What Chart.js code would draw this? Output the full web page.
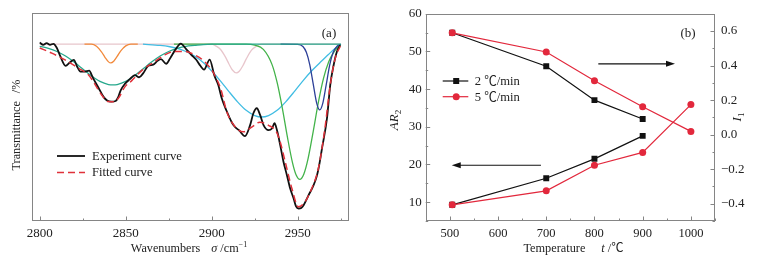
<!DOCTYPE html>
<html><head><meta charset="utf-8">
<script src="https://cdn.jsdelivr.net/npm/chart.js@4.4.1/dist/chart.umd.min.js"></script>
<style>
html,body{margin:0;padding:0;background:#fff;}
#wrap{position:relative;width:758px;height:261px;overflow:hidden;}
.box{position:absolute;top:0;height:261px;}
</style></head><body>
<div id="wrap">
  <div class="box" style="left:0;width:380px"><canvas id="ca"></canvas></div>
  <div class="box" style="left:380px;width:378px"><canvas id="cb"></canvas></div>
</div>
<script>
// ---------- Panel (a) data ----------
const A_X_TICKS = [2800, 2850, 2900, 2950];
const A_X_LABELS = ["2800", "2850", "2900", "2950"];
const A_X_MINOR = [2825, 2875, 2925, 2975];

const EXP_X = [2800,2802,2804,2806,2808,2810,2812,2815,2817.5,2819.8,2821.7,2823.7,2826.2,2828.7,2831,2834,2837,2839.2,2841.7,2844.1,2845.6,2847,2849.5,2852.4,2855.3,2857.8,2860.2,2863.1,2866,2868.5,2870.5,2873.5,2876,2879,2882,2885,2888,2891,2893.5,2895.5,2898.8,2901.5,2903.8,2905.8,2908.6,2911.6,2913.4,2916,2919.3,2922.3,2924.2,2926.2,2928.1,2930.1,2933,2935,2936.5,2937.9,2939.8,2941.7,2943.7,2945.6,2947.6,2949,2950.5,2952,2953.4,2956.3,2959.2,2961.2,2962.5,2964.1,2967,2968.9,2970.9,2972.8,2974.7];
const EXP_Y = [85.8,84.7,85.5,84.7,85.2,83.1,79.1,74.6,76.2,77.5,74.3,71.8,71.8,72.3,68.7,64.3,59.8,57.9,57.4,57.7,59.5,62.7,65.9,68.2,70.1,69.1,71.1,74.6,75.2,77.0,77.8,75.6,78.5,82.5,85.3,82.8,80.0,77.5,74.5,72.8,77.6,70.0,65.4,59.0,53.0,47.5,45.3,43.5,40.8,46.1,51.8,54.2,51.0,46.1,43.7,44.5,47.0,43.7,36.5,28.5,22.0,15.6,10.8,7.0,6.0,6.3,7.6,12.4,17.2,22.0,27.0,34.9,49.4,65.4,75.1,81.5,84.5];

const FIT_X = [2800,2807,2815,2822.5,2828.3,2832.2,2836,2839.9,2842.8,2845.7,2849.5,2853.5,2857,2861,2867,2872.7,2878.5,2884.3,2890,2896,2901.7,2905.6,2908.7,2913.6,2918.4,2923,2928,2933,2937.6,2939.8,2942.7,2946.6,2950.4,2954.2,2958.1,2962,2965.8,2968.9,2971.8,2974.7];
const FIT_Y = [83.2,80.7,77.3,73.5,70.3,65.6,60.6,57.4,57.3,59.0,64.5,67.5,70.5,73.5,76.7,79.9,81.5,81.5,79.9,76.5,70.2,62.5,52.6,45.3,42.9,45.0,47.5,46.0,42.9,38.0,28.5,15.6,6.8,9.2,15.6,25.3,44.6,65.4,78.3,84.0];

const ORANGE_X = [2826,2830,2833,2836,2838,2840,2841.3,2843,2845,2847,2850,2853,2857];
const ORANGE_Y = [85,85,84,81.2,78.6,76.5,76,76.8,79.1,81.7,84.2,85,85];

const TEAL_X = [2800,2805,2810,2815,2820,2825,2830,2835,2840,2842.5,2845,2850,2855,2860,2865,2870,2875,2880,2885,2890,2895,2900,2975];
const TEAL_Y = [84.0,83.0,81.5,79.3,76.4,73.1,69.8,67.1,65.6,65.4,65.6,67.1,69.8,73.1,76.4,79.3,81.5,83.0,84.0,84.4,84.8,85,85];

const PINK_X = [2800,2900,2902,2905,2908,2910,2912,2914.3,2916,2918,2920,2923,2926,2929,2975];
const PINK_Y = [85,85,84.3,82.6,78.8,75.5,72.6,71.2,72.0,74.5,77.8,82.0,84.1,85,85];

const CYAN_X = [2860,2870,2875,2880,2885,2890,2895,2900,2905,2910,2915,2920,2925,2929,2933,2938,2943,2948,2953,2958,2963,2968,2972,2975];
const CYAN_Y = [85,84.4,83.9,83.0,81.5,79.3,76.2,72.1,67.4,62.2,57.3,53.2,50.7,50.0,50.7,53.2,57.3,62.2,67.4,72.1,76.2,80.2,83.2,85];

const GREEN_X = [2878,2920,2925,2930,2935,2938,2941,2944,2947,2949,2951.2,2953.5,2956,2959,2962,2965,2968,2971,2975];
const GREEN_Y = [85,85,84.5,82.5,75.3,66.6,54.4,40.3,27.8,22.2,20,22.5,30,43.1,57.1,68.7,76.6,81.2,85];

const NAVY_X = [2940,2950,2953,2955,2957,2959,2961,2962.8,2964.5,2966.5,2968.5,2970.5,2973,2975];
const NAVY_Y = [85,84.9,83.9,81.1,75.1,65.8,56.7,53.4,56.4,65.3,74.7,80.9,84.1,85];

// ---------- Panel (b) data ----------
const TEMP_2 = [505, 700, 800, 900];
const AR2_2 = [9.3, 16.35, 21.5, 27.6];
const I1_2 = [0.59, 0.396, 0.20, 0.091];
const TEMP_5 = [505, 700, 800, 900, 1000];
const AR2_5 = [9.3, 13.0, 19.8, 23.2, 35.9];
const I1_5 = [0.59, 0.479, 0.312, 0.162, 0.019];

const B_X_TICKS = [500, 600, 700, 800, 900, 1000];
const B_X_LABELS = ["500", "600", "700", "800", "900", "1000"];
const B_X_MINOR = [450, 550, 650, 750, 850, 950, 1050];
const B_Y_TICKS = [10, 20, 30, 40, 50, 60];
const B_Y_LABELS = ["10", "20", "30", "40", "50", "60"];
const B_Y_MINOR = [5, 15, 25, 35, 45, 55];
const B_Y1_TICKS = [-0.4, -0.2, 0.0, 0.2, 0.4, 0.6];
const B_Y1_LABELS = ["\u22120.4", "\u22120.2", "0.0", "0.2", "0.4", "0.6"];
const B_Y1_MINOR = [-0.5, -0.3, -0.1, 0.1, 0.3, 0.5, 0.7];
const LEGEND_B = ["2 \u2103/min", "5 \u2103/min"];
const LEGEND_A = ["Experiment curve", "Fitted curve"];

// ---------- helpers ----------
const FAM = "'Liberation Serif','Times New Roman','Noto Sans CJK SC',serif";
const fnt = (sz, it) => (it ? 'italic ' : '') + sz + 'px ' + FAM;
const pts = (xs, ys) => xs.map((x, i) => ({x: x, y: ys[i]}));
const lab = (vals, labels) => (v) => { const i = vals.findIndex(t => Math.abs(t - v) < 1e-6); return i >= 0 ? labels[i] : ''; };
const AXIS_COL = '#858585';
const TEXT_COL = '#222';

function drawRuns(ctx, runs, cx, cy) {
  let w = 0;
  runs.forEach(r => { ctx.font = fnt(r.sz, r.it); r.w = ctx.measureText(r.t).width; w += r.w + (r.gap || 0); });
  let x = cx - w / 2;
  ctx.textAlign = 'left'; ctx.textBaseline = 'middle'; ctx.fillStyle = TEXT_COL;
  runs.forEach(r => { x += (r.gap || 0); ctx.font = fnt(r.sz, r.it); ctx.fillText(r.t, x, cy + (r.dy || 0)); x += r.w; });
}
function drawBox(ctx, a) {
  ctx.save(); ctx.strokeStyle = AXIS_COL; ctx.lineWidth = 1;
  ctx.strokeRect(Math.round(a.left) + 0.5, Math.round(a.top) + 0.5, Math.round(a.right) - Math.round(a.left) - 1, Math.round(a.bottom) - Math.round(a.top) - 1);
  ctx.restore();
}
function ticksX(ctx, sc, vals, len, a) {
  ctx.save(); ctx.strokeStyle = AXIS_COL; ctx.lineWidth = 1; ctx.beginPath();
  vals.forEach(v => { const p = Math.round(sc.getPixelForValue(v)) + 0.5; ctx.moveTo(p, a.bottom); ctx.lineTo(p, a.bottom - len); });
  ctx.stroke(); ctx.restore();
}
function ticksY(ctx, sc, vals, len, x0, dir) {
  ctx.save(); ctx.strokeStyle = AXIS_COL; ctx.lineWidth = 1; ctx.beginPath();
  vals.forEach(v => { const p = Math.round(sc.getPixelForValue(v)) + 0.5; ctx.moveTo(x0, p); ctx.lineTo(x0 + dir * len, p); });
  ctx.stroke(); ctx.restore();
}
function arrow(ctx, x1, y1, x2, y2) {
  ctx.save(); ctx.strokeStyle = '#111'; ctx.fillStyle = '#111'; ctx.lineWidth = 1.2;
  const dir = Math.sign(x2 - x1);
  ctx.beginPath(); ctx.moveTo(x1, y1); ctx.lineTo(x2 - dir * 6, y2); ctx.stroke();
  ctx.beginPath(); ctx.moveTo(x2, y2); ctx.lineTo(x2 - dir * 9, y2 - 3); ctx.lineTo(x2 - dir * 9, y2 + 3); ctx.closePath(); ctx.fill();
  ctx.restore();
}

Chart.defaults.font.family = FAM;
Chart.defaults.color = TEXT_COL;

const lineDs = (label, xs, ys, color, w, extra) => Object.assign({
  label: label, data: pts(xs, ys), borderColor: color, backgroundColor: color,
  borderWidth: w, pointRadius: 0, fill: false, cubicInterpolationMode: 'monotone'
}, extra || {});

// ---------- Chart (a) ----------
const plugA = {
  id: 'plugA',
  afterDatasetsDraw(chart) {
    const ctx = chart.ctx, a = chart.chartArea, sx = chart.scales.x;
    drawBox(ctx, a);
    ticksX(ctx, sx, A_X_TICKS, 4.5, a);
    ticksX(ctx, sx, A_X_MINOR, 2.5, a);
    drawRuns(ctx, [
      {t: 'Wavenumbers', sz: 12.2},
      {t: '\u03c3', sz: 12.2, it: true, gap: 11},
      {t: ' /cm', sz: 12.2},
      {t: '\u22121', sz: 8, dy: -4}
    ], 189, 248.5);
    ctx.save(); ctx.translate(17, 125); ctx.rotate(-Math.PI / 2);
    drawRuns(ctx, [{t: 'Transmittance', sz: 12.2}, {t: '/%', sz: 12.2, gap: 8}], 0, 0);
    ctx.restore();
    ctx.save(); ctx.font = fnt(13); ctx.fillStyle = TEXT_COL; ctx.textAlign = 'center'; ctx.textBaseline = 'middle';
    ctx.fillText('(a)', 329, 33.5); ctx.restore();
    ctx.save();
    ctx.lineWidth = 1.8; ctx.strokeStyle = '#111';
    ctx.beginPath(); ctx.moveTo(57, 156); ctx.lineTo(85, 156); ctx.stroke();
    ctx.lineWidth = 1.5; ctx.strokeStyle = '#e0313a'; ctx.setLineDash([7, 4]);
    ctx.beginPath(); ctx.moveTo(57, 172.5); ctx.lineTo(85, 172.5); ctx.stroke();
    ctx.setLineDash([]);
    ctx.font = fnt(12.6); ctx.fillStyle = TEXT_COL; ctx.textAlign = 'left'; ctx.textBaseline = 'middle';
    ctx.fillText(LEGEND_A[0], 92, 156.5); ctx.fillText(LEGEND_A[1], 92, 173);
    ctx.restore();
  }
};

new Chart(document.getElementById('ca'), {
  type: 'line',
  data: {
    datasets: [
      lineDs('Fitted curve', FIT_X, FIT_Y, '#e0313a', 1.5, {borderDash: [7, 4]}),
      lineDs('Experiment curve', EXP_X, EXP_Y, '#111111', 1.8),
      lineDs('p1', ORANGE_X, ORANGE_Y, '#f28a3c', 1.3),
      lineDs('p2', TEAL_X, TEAL_Y, '#26a88c', 1.3),
      lineDs('p5', NAVY_X, NAVY_Y, '#2c3f98', 1.3),
      lineDs('p4', GREEN_X, GREEN_Y, '#43b34a', 1.3),
      lineDs('p3', CYAN_X, CYAN_Y, '#41bde3', 1.3),
      lineDs('p6', PINK_X, PINK_Y, '#e8c6cc', 1.3)
    ]
  },
  options: {
    responsive: true, maintainAspectRatio: false, animation: false, devicePixelRatio: 1,
    layout: {padding: {top: 13, right: 31.5, left: 0, bottom: 0}},
    plugins: {legend: {display: false}, tooltip: {enabled: false}},
    scales: {
      x: {
        type: 'linear', min: 2795.5, max: 2979.5,
        grid: {display: false, drawTicks: false}, border: {display: false},
        ticks: {font: {size: 13}, color: TEXT_COL, padding: 5, maxRotation: 0, autoSkip: false,
          callback: lab(A_X_TICKS, A_X_LABELS)},
        afterBuildTicks: s => { s.ticks = A_X_TICKS.map(v => ({value: v})); },
        afterFit: s => { s.height = 40; }
      },
      y: {
        min: 0, max: 100,
        grid: {display: false, drawTicks: false}, border: {display: false},
        ticks: {display: false},
        afterFit: s => { s.width = 32; }
      }
    }
  },
  plugins: [plugA]
});

// ---------- Chart (b) ----------
const RED = '#e2283c';
const plugB = {
  id: 'plugB',
  afterDatasetsDraw(chart) {
    const ctx = chart.ctx, a = chart.chartArea, sx = chart.scales.x, sy = chart.scales.y, sy1 = chart.scales.y1;
    drawBox(ctx, a);
    ticksX(ctx, sx, B_X_TICKS, 4.5, a);
    ticksX(ctx, sx, B_X_MINOR, 2.5, a);
    ticksY(ctx, sy, B_Y_TICKS, 4.5, a.left, 1);
    ticksY(ctx, sy, B_Y_MINOR, 2.5, a.left, 1);
    ticksY(ctx, sy1, B_Y1_TICKS, 4.5, a.right, -1);
    ticksY(ctx, sy1, B_Y1_MINOR, 2.5, a.right, -1);
    drawRuns(ctx, [
      {t: 'Temperature', sz: 12.3},
      {t: 't', sz: 12.3, it: true, gap: 16},
      {t: ' /\u2103', sz: 12.3}
    ], 193.5, 248.5);
    ctx.save(); ctx.translate(15, 120); ctx.rotate(-Math.PI / 2);
    drawRuns(ctx, [{t: 'AR', sz: 13, it: true}, {t: '2', sz: 9, dy: 4}], 0, 0);
    ctx.restore();
    ctx.save(); ctx.translate(358, 117); ctx.rotate(-Math.PI / 2);
    drawRuns(ctx, [{t: 'I', sz: 13, it: true}, {t: '1', sz: 9, dy: 4}], 0, 0);
    ctx.restore();
    ctx.save(); ctx.font = fnt(13); ctx.fillStyle = TEXT_COL; ctx.textAlign = 'center'; ctx.textBaseline = 'middle';
    ctx.fillText('(b)', 308, 33.5); ctx.restore();
    arrow(ctx, sx.getPixelForValue(808), sy1.getPixelForValue(0.41), sx.getPixelForValue(967), sy1.getPixelForValue(0.41));
    arrow(ctx, sx.getPixelForValue(689), sy.getPixelForValue(19.8), sx.getPixelForValue(504), sy.getPixelForValue(19.8));
    const lx0 = a.left + 17, lx1 = a.left + 42.6, mx = a.left + 30.5, tx = a.left + 49;
    const ly = [81, 96.7];
    ctx.save();
    ctx.lineWidth = 1.2; ctx.strokeStyle = '#111'; ctx.fillStyle = '#111';
    ctx.beginPath(); ctx.moveTo(lx0, ly[0]); ctx.lineTo(lx1, ly[0]); ctx.stroke();
    ctx.fillRect(mx - 3, ly[0] - 3, 6, 6);
    ctx.strokeStyle = RED; ctx.fillStyle = RED;
    ctx.beginPath(); ctx.moveTo(lx0, ly[1]); ctx.lineTo(lx1, ly[1]); ctx.stroke();
    ctx.beginPath(); ctx.arc(mx, ly[1], 3.5, 0, Math.PI * 2); ctx.fill();
    ctx.font = fnt(12.6); ctx.fillStyle = TEXT_COL; ctx.textAlign = 'left'; ctx.textBaseline = 'middle';
    ctx.fillText(LEGEND_B[0], tx, ly[0] + 0.5); ctx.fillText(LEGEND_B[1], tx, ly[1] + 0.5);
    ctx.restore();
  }
};

const markDs = (label, xs, ys, color, style, r, axis) => ({
  label: label, data: pts(xs, ys), yAxisID: axis, borderColor: color, backgroundColor: color,
  pointBackgroundColor: color, pointBorderColor: color, pointStyle: style, pointRadius: r, pointBorderWidth: 0,
  borderWidth: 1.2, fill: false, tension: 0
});

new Chart(document.getElementById('cb'), {
  type: 'line',
  data: {
    datasets: [
      markDs('5 AR2', TEMP_5, AR2_5, RED, 'circle', 3.5, 'y'),
      markDs('5 I1', TEMP_5, I1_5, RED, 'circle', 3.5, 'y1'),
      markDs('2 AR2', TEMP_2, AR2_2, '#111111', 'rect', 4.2, 'y'),
      markDs('2 I1', TEMP_2, I1_2, '#111111', 'rect', 4.2, 'y1')
    ]
  },
  options: {
    responsive: true, maintainAspectRatio: false, animation: false, devicePixelRatio: 1,
    layout: {padding: {top: 13.3, right: 0, left: 0, bottom: 0}},
    plugins: {legend: {display: false}, tooltip: {enabled: false}},
    scales: {
      x: {
        type: 'linear', min: 450, max: 1050,
        grid: {display: false, drawTicks: false}, border: {display: false},
        ticks: {font: {size: 12.5}, color: TEXT_COL, padding: 5, maxRotation: 0, autoSkip: false,
          callback: lab(B_X_TICKS, B_X_LABELS)},
        afterBuildTicks: s => { s.ticks = B_X_TICKS.map(v => ({value: v})); },
        afterFit: s => { s.height = 40; }
      },
      y: {
        position: 'left', min: 5, max: 60,
        grid: {display: false, drawTicks: false}, border: {display: false},
        ticks: {font: {size: 13}, color: TEXT_COL, padding: 4, callback: lab(B_Y_TICKS, B_Y_LABELS)},
        afterBuildTicks: s => { s.ticks = B_Y_TICKS.map(v => ({value: v})); },
        afterFit: s => { s.width = 45.7; }
      },
      y1: {
        position: 'right', min: -0.5, max: 0.7,
        grid: {display: false, drawTicks: false}, border: {display: false},
        ticks: {font: {size: 13}, color: TEXT_COL, padding: 6, callback: lab(B_Y1_TICKS, B_Y1_LABELS)},
        afterBuildTicks: s => { s.ticks = B_Y1_TICKS.map(v => ({value: v})); },
        afterFit: s => { s.width = 43; }
      }
    }
  },
  plugins: [plugB]
});
</script>
</body></html>
